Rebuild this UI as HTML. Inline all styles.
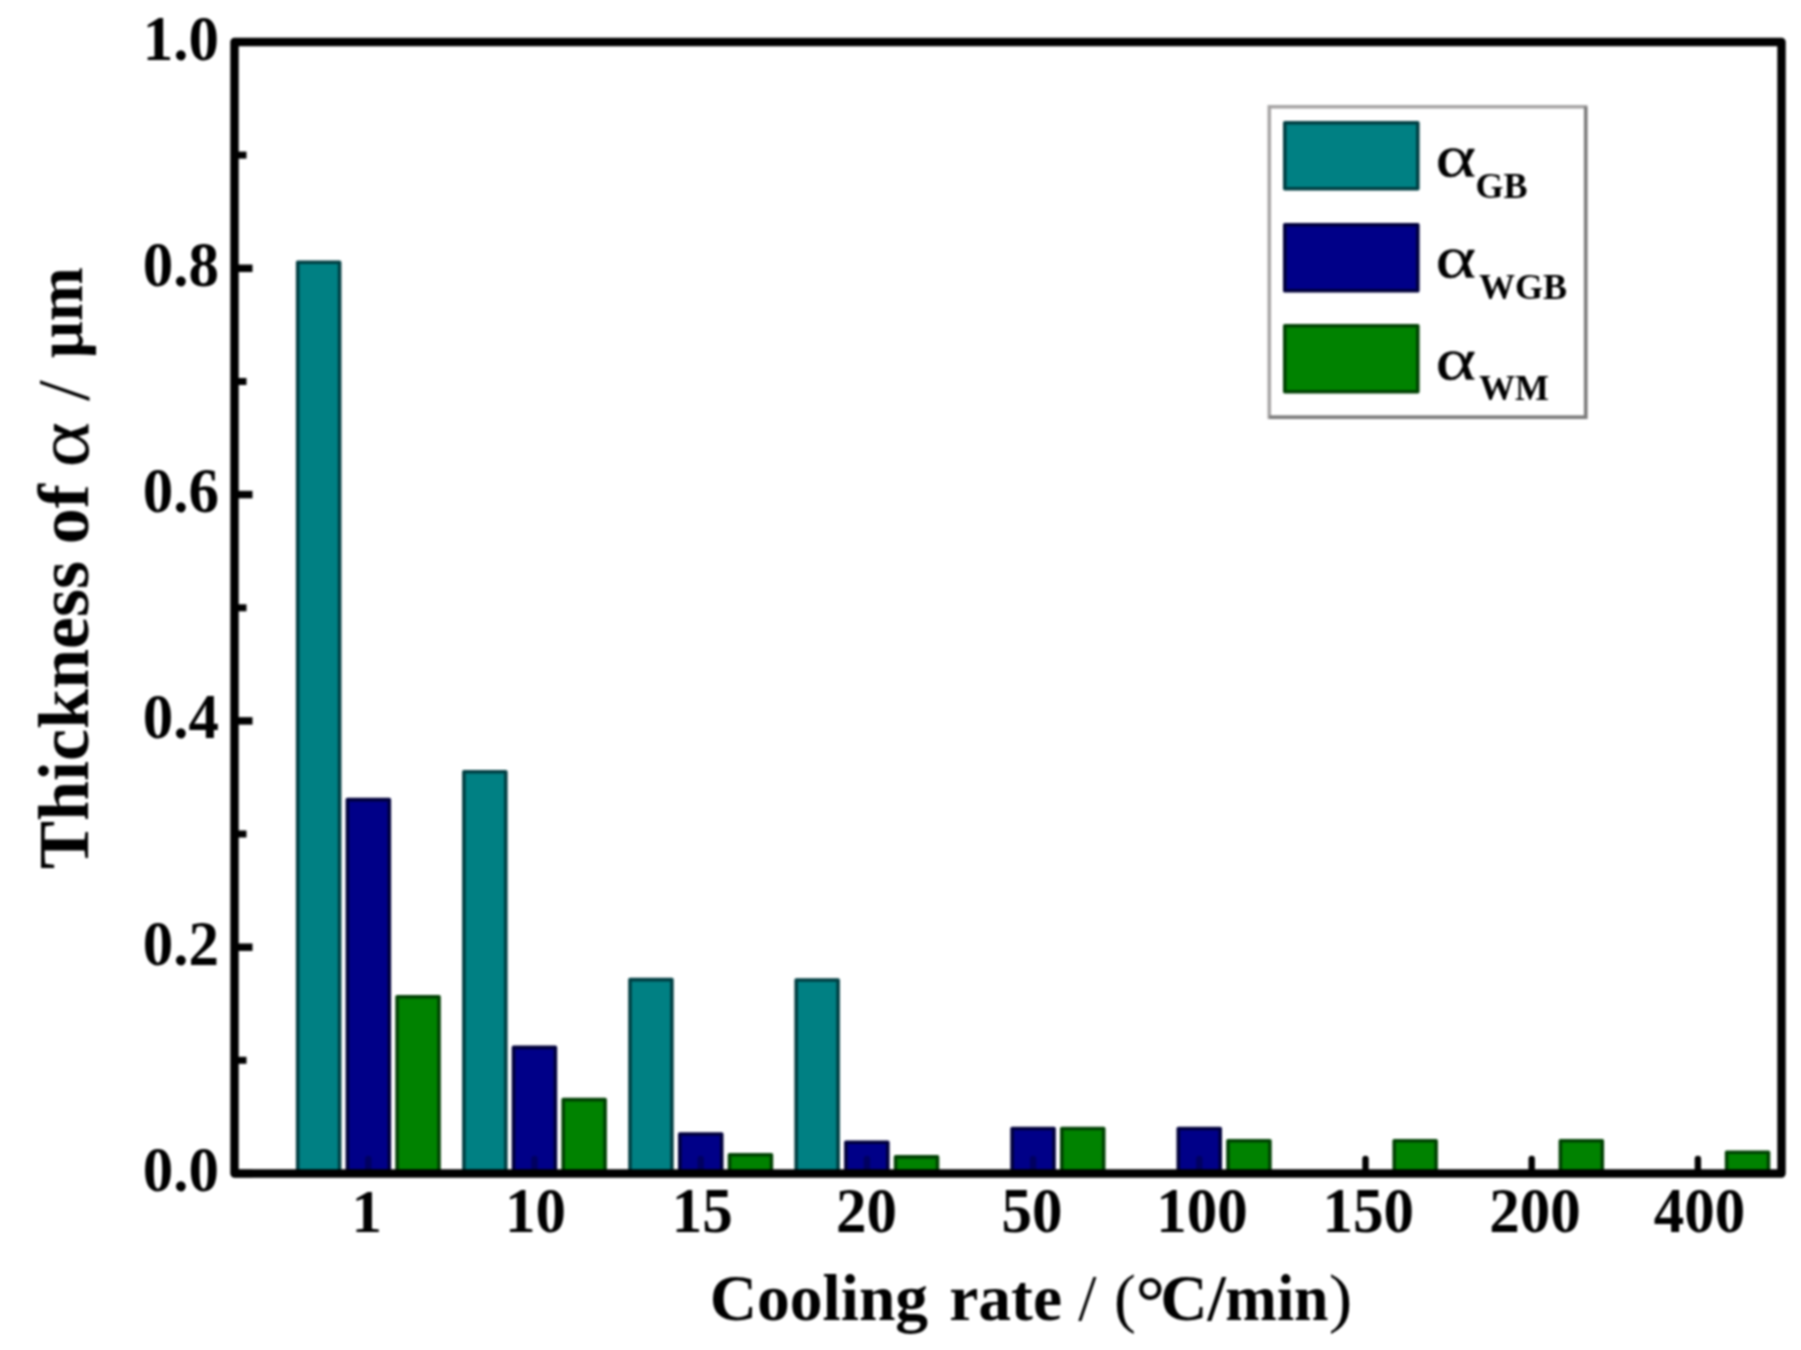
<!DOCTYPE html>
<html lang="en"><head><meta charset="utf-8"><title>Thickness of alpha vs cooling rate</title>
<style>html,body{margin:0;padding:0;background:#fff}body{width:1801px;height:1350px;overflow:hidden}svg{display:block}
text{font-family:"Liberation Serif","DejaVu Serif",serif;font-weight:bold;fill:#000}.reg{font-weight:normal}</style></head><body>
<svg width="1801" height="1350" viewBox="0 0 1801 1350">
<defs><filter id="soft" color-interpolation-filters="sRGB" x="-5%" y="-5%" width="110%" height="110%"><feGaussianBlur stdDeviation="1"/></filter></defs>
<rect width="1801" height="1350" fill="#fff"/>
<g filter="url(#soft)">
<g id="bars">
<rect x="297.7" y="262.3" width="41.9" height="911.2" fill="#008083" stroke="#003f43" stroke-width="3.6" stroke-linejoin="round"/>
<rect x="463.9" y="771.8" width="41.9" height="401.7" fill="#008083" stroke="#003f43" stroke-width="3.6" stroke-linejoin="round"/>
<rect x="630.0" y="979.6" width="41.9" height="193.9" fill="#008083" stroke="#003f43" stroke-width="3.6" stroke-linejoin="round"/>
<rect x="796.2" y="980.0" width="41.9" height="193.5" fill="#008083" stroke="#003f43" stroke-width="3.6" stroke-linejoin="round"/>
<rect x="347.4" y="799.6" width="41.9" height="373.9" fill="#000088" stroke="#00003c" stroke-width="3.6" stroke-linejoin="round"/>
<rect x="513.5" y="1047.4" width="41.9" height="126.1" fill="#000088" stroke="#00003c" stroke-width="3.6" stroke-linejoin="round"/>
<rect x="679.8" y="1134.0" width="41.9" height="39.5" fill="#000088" stroke="#00003c" stroke-width="3.6" stroke-linejoin="round"/>
<rect x="845.9" y="1142.2" width="41.9" height="31.3" fill="#000088" stroke="#00003c" stroke-width="3.6" stroke-linejoin="round"/>
<rect x="1012.1" y="1128.5" width="41.9" height="45.0" fill="#000088" stroke="#00003c" stroke-width="3.6" stroke-linejoin="round"/>
<rect x="1178.3" y="1128.5" width="41.9" height="45.0" fill="#000088" stroke="#00003c" stroke-width="3.6" stroke-linejoin="round"/>
<rect x="397.1" y="996.8" width="41.9" height="176.7" fill="#008200" stroke="#004203" stroke-width="3.6" stroke-linejoin="round"/>
<rect x="563.2" y="1099.6" width="41.9" height="73.9" fill="#008200" stroke="#004203" stroke-width="3.6" stroke-linejoin="round"/>
<rect x="729.5" y="1154.7" width="41.9" height="18.8" fill="#008200" stroke="#004203" stroke-width="3.6" stroke-linejoin="round"/>
<rect x="895.6" y="1156.9" width="41.9" height="16.6" fill="#008200" stroke="#004203" stroke-width="3.6" stroke-linejoin="round"/>
<rect x="1061.8" y="1128.5" width="41.9" height="45.0" fill="#008200" stroke="#004203" stroke-width="3.6" stroke-linejoin="round"/>
<rect x="1228.0" y="1140.7" width="41.9" height="32.8" fill="#008200" stroke="#004203" stroke-width="3.6" stroke-linejoin="round"/>
<rect x="1394.2" y="1140.7" width="41.9" height="32.8" fill="#008200" stroke="#004203" stroke-width="3.6" stroke-linejoin="round"/>
<rect x="1560.4" y="1140.7" width="41.9" height="32.8" fill="#008200" stroke="#004203" stroke-width="3.6" stroke-linejoin="round"/>
<rect x="1726.6" y="1152.2" width="41.9" height="21.3" fill="#008200" stroke="#004203" stroke-width="3.6" stroke-linejoin="round"/>
</g>
<g id="ticks" stroke="#000">
<line x1="234.5" y1="1173.5" x2="252.5" y2="1173.5" stroke-width="7.5"/>
<line x1="234.5" y1="1060.3" x2="246.5" y2="1060.3" stroke-width="7"/>
<line x1="234.5" y1="947.2" x2="252.5" y2="947.2" stroke-width="7.5"/>
<line x1="234.5" y1="834.0" x2="246.5" y2="834.0" stroke-width="7"/>
<line x1="234.5" y1="720.9" x2="252.5" y2="720.9" stroke-width="7.5"/>
<line x1="234.5" y1="607.8" x2="246.5" y2="607.8" stroke-width="7"/>
<line x1="234.5" y1="494.6" x2="252.5" y2="494.6" stroke-width="7.5"/>
<line x1="234.5" y1="381.5" x2="246.5" y2="381.5" stroke-width="7"/>
<line x1="234.5" y1="268.3" x2="252.5" y2="268.3" stroke-width="7.5"/>
<line x1="234.5" y1="155.1" x2="246.5" y2="155.1" stroke-width="7"/>
<line x1="234.5" y1="42.0" x2="252.5" y2="42.0" stroke-width="7.5"/>
<line x1="368.3" y1="1173.5" x2="368.3" y2="1159.0" stroke-width="6.4" stroke="#00003a" stroke-opacity="0.5" stroke-linecap="round"/>
<line x1="534.5" y1="1173.5" x2="534.5" y2="1159.0" stroke-width="6.4" stroke="#00003a" stroke-opacity="0.5" stroke-linecap="round"/>
<line x1="700.7" y1="1173.5" x2="700.7" y2="1159.0" stroke-width="6.4" stroke="#00003a" stroke-opacity="0.5" stroke-linecap="round"/>
<line x1="866.9" y1="1173.5" x2="866.9" y2="1159.0" stroke-width="6.4" stroke="#00003a" stroke-opacity="0.5" stroke-linecap="round"/>
<line x1="1033.1" y1="1173.5" x2="1033.1" y2="1159.0" stroke-width="6.4" stroke="#00003a" stroke-opacity="0.5" stroke-linecap="round"/>
<line x1="1199.3" y1="1173.5" x2="1199.3" y2="1159.0" stroke-width="6.4" stroke="#00003a" stroke-opacity="0.5" stroke-linecap="round"/>
<line x1="1365.5" y1="1173.5" x2="1365.5" y2="1159.0" stroke-width="6.4" stroke="#000" stroke-opacity="1" stroke-linecap="round"/>
<line x1="1531.7" y1="1173.5" x2="1531.7" y2="1159.0" stroke-width="6.4" stroke="#000" stroke-opacity="1" stroke-linecap="round"/>
<line x1="1697.9" y1="1173.5" x2="1697.9" y2="1159.0" stroke-width="6.4" stroke="#000" stroke-opacity="1" stroke-linecap="round"/>
</g>
<rect x="234.5" y="42.0" width="1547.0" height="1131.5" fill="none" stroke="#000" stroke-width="8.4" stroke-linejoin="round"/>
<g id="ylabels">
<text transform="translate(219.0,1191.0) scale(1,1.055)" font-size="61" text-anchor="end">0.0</text>
<text transform="translate(219.0,964.7) scale(1,1.055)" font-size="61" text-anchor="end">0.2</text>
<text transform="translate(219.0,738.4) scale(1,1.055)" font-size="61" text-anchor="end">0.4</text>
<text transform="translate(219.0,512.1) scale(1,1.055)" font-size="61" text-anchor="end">0.6</text>
<text transform="translate(219.0,285.8) scale(1,1.055)" font-size="61" text-anchor="end">0.8</text>
<text transform="translate(219.0,59.5) scale(1,1.055)" font-size="61" text-anchor="end">1.0</text>
</g>
<g id="xlabels">
<text transform="translate(366.8,1231.5)" font-size="61" text-anchor="middle">1</text>
<text transform="translate(535.5,1232.0) scale(1,1.055)" font-size="61" text-anchor="middle">10</text>
<text transform="translate(702.2,1232.0) scale(1,1.055)" font-size="61" text-anchor="middle">15</text>
<text transform="translate(866.4,1232.0) scale(1,1.055)" font-size="61" text-anchor="middle">20</text>
<text transform="translate(1032.1,1232.0) scale(1,1.055)" font-size="61" text-anchor="middle">50</text>
<text transform="translate(1202.0,1232.0) scale(1,1.055)" font-size="61" text-anchor="middle">100</text>
<text transform="translate(1368.2,1232.0) scale(1,1.055)" font-size="61" text-anchor="middle">150</text>
<text transform="translate(1535.1,1232.0) scale(1,1.055)" font-size="61" text-anchor="middle">200</text>
<text transform="translate(1699.4,1232.0) scale(1,1.055)" font-size="61" text-anchor="middle">400</text>
</g>
<g id="xtitle">
<text transform="translate(709.7,1320.0)" font-size="65.5">Cooling</text>
<text transform="translate(949.3,1320.0)" font-size="65.5">rate</text>
<text transform="translate(1078.2,1320.0)" font-size="65.5" class="reg">/</text>
<text transform="translate(1114.1,1320.0)" font-size="65.5" class="reg">(</text>
<text transform="translate(1135.4,1326.5)" font-size="74">°</text>
<text transform="translate(1160.2,1320.0)" font-size="65.5">C/</text>
<text transform="translate(1225.3,1320.0) scale(0.946,1)" font-size="65.5">min</text>
<text transform="translate(1328.8,1320.0) scale(1.08,1)" font-size="65.5" class="reg">)</text>
</g>
<g id="ytitle">
<text transform="translate(88.0,869.0) rotate(-90)" font-size="72">Thickness</text>
<text transform="translate(88.0,544.3) rotate(-90)" font-size="72">of</text>
<text transform="translate(88.3,467.2) rotate(-90) scale(1.17,1)" font-size="73.6" class="reg" stroke="#000" stroke-width="0.3">α</text>
<text transform="translate(88.7,401.0) rotate(-90)" font-size="75" class="reg">/</text>
<text transform="translate(82.0,358.0) rotate(-90)" font-size="65">μm</text>
</g>
<g id="legend">
<rect x="1269.3" y="106.8" width="316.4" height="310.5" fill="#fff" stroke="#a6a4a4" stroke-width="3.5"/>
<path d="M1269.3 417.3H1585.7V106.8" fill="none" stroke="#7d7d7d" stroke-width="3.5"/>
<rect x="1284.8" y="122.8" width="133" height="66" fill="#008083" stroke="#003f43" stroke-width="3.6" stroke-linejoin="round"/>
<rect x="1284.8" y="224.8" width="133" height="66" fill="#000088" stroke="#00003c" stroke-width="3.6" stroke-linejoin="round"/>
<rect x="1284.8" y="325.8" width="133" height="66" fill="#008200" stroke="#004203" stroke-width="3.6" stroke-linejoin="round"/>
<text transform="translate(1435.6,176.0) scale(1.31,1)" font-size="59" class="reg" stroke="#000" stroke-width="0.3">α</text>
<text transform="translate(1475.4,197.8)" font-size="36">GB</text>
<text transform="translate(1435.6,277.3) scale(1.31,1)" font-size="59" class="reg" stroke="#000" stroke-width="0.3">α</text>
<text transform="translate(1478.9,299.3)" font-size="36">WGB</text>
<text transform="translate(1435.6,378.5) scale(1.31,1)" font-size="59" class="reg" stroke="#000" stroke-width="0.3">α</text>
<text transform="translate(1478.9,400.3)" font-size="36">WM</text>
</g>
</g>
</svg></body></html>
